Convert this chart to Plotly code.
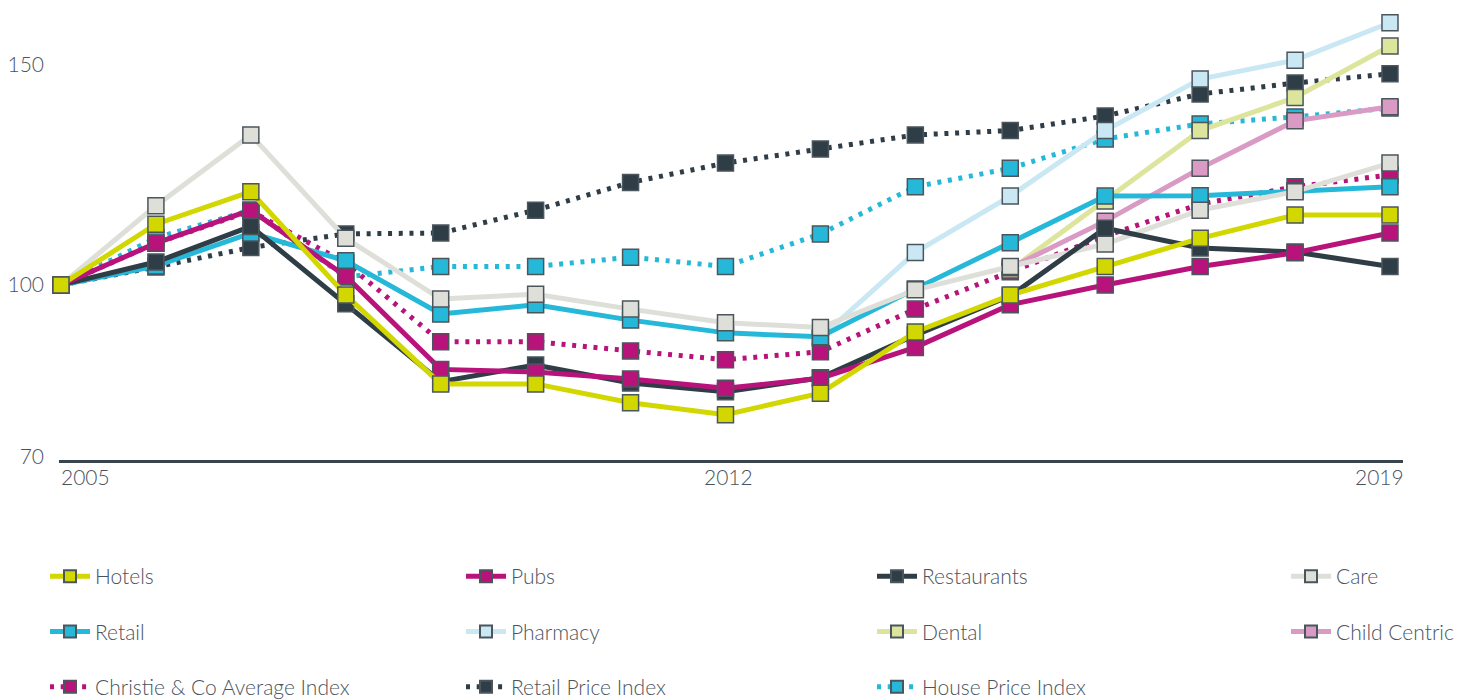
import plotly.graph_objects as go

years = list(range(2005, 2020))

hotels = [100, 113.8, 121.2, 97.7, 77.5, 77.5, 73.2, 70.5, 75.4, 89.3, 97.7, 104.2, 110.6, 115.9, 115.9]
pubs = [100, 109.5, 117.0, 102.0, 80.8, 80.2, 78.6, 76.5, 78.8, 85.8, 95.5, 100.0, 104.2, 107.3, 111.8]
restaurants = [100, 105.2, 113.3, 95.7, 78.0, 81.8, 77.7, 75.7, 78.9, 88.6, 97.5, 112.9, 108.4, 107.5, 104.2]
care = [100, 118.0, 134.1, 110.6, 96.8, 97.9, 94.5, 91.4, 90.3, 98.9, 104.2, 109.3, 117.0, 121.2, 127.7]
retail = [100, 104.3, 111.8, 105.5, 93.4, 95.5, 92.0, 89.1, 88.2, 99.1, 109.6, 120.2, 120.3, 121.4, 122.3]
pharmacy = [None, None, None, None, None, None, None, None, 88.0, 107.4, 120.2, 135.1, 146.8, 151.1, 159.6]
dental = [None, None, None, None, None, None, None, None, None, None, 103.4, 119.1, 135.1, 142.6, 154.3]
child_centric = [None, None, None, None, None, None, None, None, None, None, 103.9, 114.5, 126.5, 137.3, 140.5]
christie_avg = [100, 109.5, 116.8, 105.0, 87.1, 87.1, 85.0, 83.0, 84.8, 94.5, 103.0, 111.1, 118.4, 122.3, 125.0]
rpi = [100, 104.1, 108.5, 111.6, 111.8, 117.0, 123.3, 127.7, 130.9, 134.1, 135.1, 138.4, 143.4, 145.9, 148.0]
hpi = [100, 110.7, 117.0, 101.8, 104.2, 104.2, 106.3, 104.2, 111.6, 122.3, 126.5, 133.2, 136.6, 138.2, 140.2]

x_tick_labels = ["2005", "2012", "2019"]
y_tick_values = [100, 150]
y_bottom_label = "70"

Y_MIN, Y_MAX = 60.2, 160.0
X_MIN, X_MAX = 2004.979, 2019.137

# the page body has an 8px margin, so the figure is made smaller to fit
FIG_W, FIG_H = 1463, 692

FONT = "Lato"
TEXT = "#4a545d"
OUTLINE = "#4b555c"
DOT = "4px,6.7px"

# (name, values, colour, dash, legend column, legend row)
series = [
    ("House Price Index", hpi, "#26b8d8", DOT, "legend3", 3),
    ("Retail Price Index", rpi, "#2f3d47", DOT, "legend2", 3),
    ("Christie & Co Average Index", christie_avg, "#b8137b", DOT, "legend", 3),
    ("Pharmacy", pharmacy, "#c9e8f4", "solid", "legend2", 2),
    ("Dental", dental, "#dce59b", "solid", "legend3", 2),
    ("Child Centric", child_centric, "#d99ac4", "solid", "legend4", 2),
    ("Retail", retail, "#26b8d8", "solid", "legend", 2),
    ("Care", care, "#dfdfd9", "solid", "legend4", 1),
    ("Restaurants", restaurants, "#2f3d47", "solid", "legend3", 1),
    ("Pubs", pubs, "#b8137b", "solid", "legend2", 1),
    ("Hotels", hotels, "#d2d700", "solid", "legend", 1),
]

fig = go.Figure()
for name, vals, col, dash, leg, row in series:
    fig.add_trace(go.Scatter(
        x=years, y=vals, name=name, mode="lines+markers",
        line=dict(color=col, width=5, dash=dash),
        marker=dict(symbol="square", size=16, color=col,
                    line=dict(color=OUTLINE, width=1.5)),
        cliponaxis=False, connectgaps=False,
        legend=leg, legendgroup=name, legendrank=row,
        hoverinfo="x+y+name",
    ))

col_x = [37, 453, 864, 1278]
leg_common = dict(
    orientation="v", xref="container", yref="container",
    xanchor="left", yanchor="top", y=1 - 548 / FIG_H,
    bgcolor="rgba(0,0,0,0)", borderwidth=0,
    font=dict(family=FONT, size=21, color=TEXT, weight=300),
    itemwidth=40, itemsizing="constant", tracegroupgap=25, traceorder="grouped",
    itemclick=False, itemdoubleclick=False,
)
legend_layout = {}
for i, key in enumerate(["legend", "legend2", "legend3", "legend4"]):
    legend_layout[key] = dict(leg_common, x=col_x[i] / FIG_W)

annotations = [
    dict(text=x_tick_labels[0], x=X_MIN, xref="x", xanchor="left", y=0, yref="paper",
         yanchor="top", yshift=-2, showarrow=False),
    dict(text=x_tick_labels[1], x=2012, xref="x", xanchor="center", y=0, yref="paper",
         yanchor="top", yshift=-2, xshift=3, showarrow=False),
    dict(text=x_tick_labels[2], x=X_MAX, xref="x", xanchor="right", y=0, yref="paper",
         yanchor="top", yshift=-2, xshift=3, showarrow=False),
]
for a in annotations:
    a["font"] = dict(family=FONT, size=21, color=TEXT, weight=300)

fig.update_layout(
    width=FIG_W, height=FIG_H,
    margin=dict(l=51, r=68, t=13, b=240, autoexpand=False),
    paper_bgcolor="white", plot_bgcolor="white",
    showlegend=True,
    font=dict(family=FONT, size=21, color=TEXT, weight=300),
    xaxis=dict(range=[X_MIN, X_MAX], showgrid=False, zeroline=False,
               showticklabels=False, ticks="", showline=True,
               linecolor="#39444c", linewidth=3),
    yaxis=dict(range=[Y_MIN, Y_MAX], showgrid=False, zeroline=False,
               showline=False, ticks="",
               tickvals=[Y_MIN + 0.8] + y_tick_values,
               ticktext=[y_bottom_label] + [str(v) for v in y_tick_values],
               ticklabelstandoff=14,
               tickfont=dict(family=FONT, size=21, color=TEXT, weight=300)),
    annotations=annotations,
    **legend_layout,
)

fig.write_html("out.html")
